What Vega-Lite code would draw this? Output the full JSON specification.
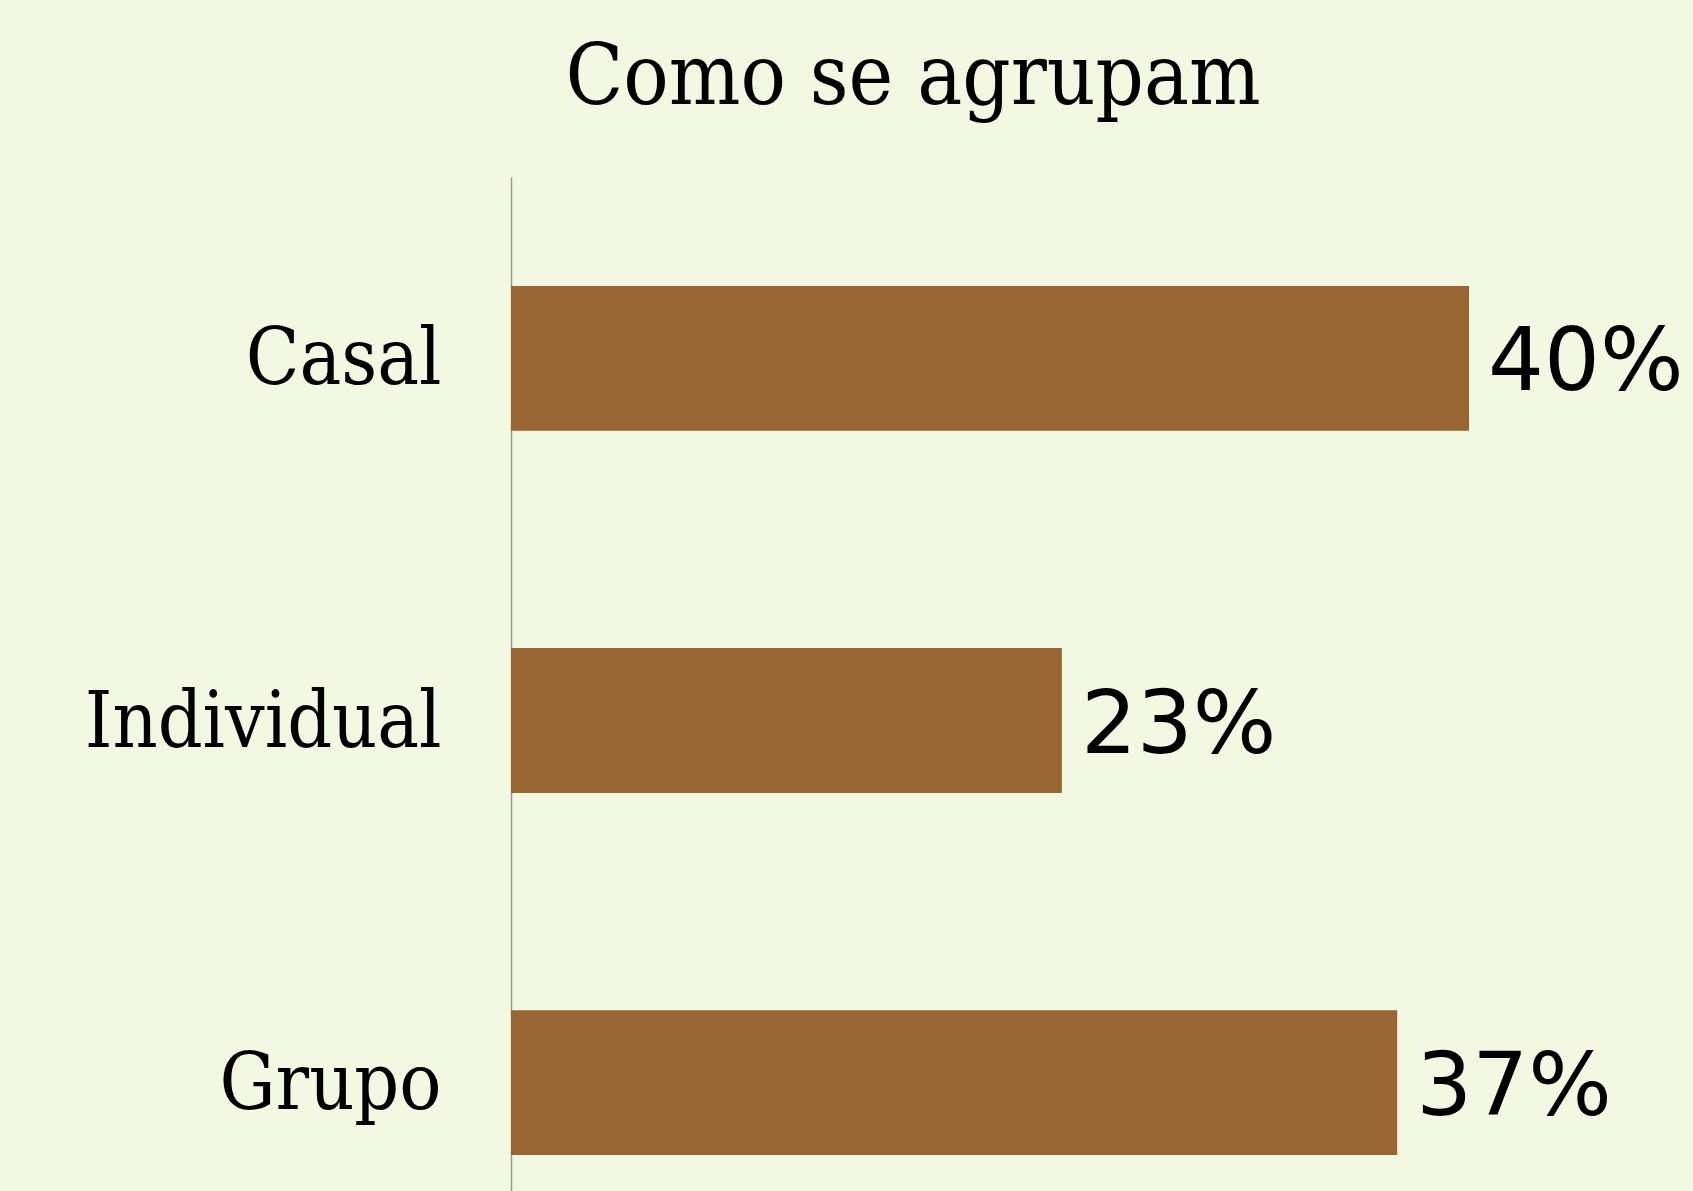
{
  "$schema": "https://vega.github.io/schema/vega-lite/v6.json",
  "autosize": "none",
  "width": 1182,
  "height": 1014,
  "padding": {"left": 511, "top": 177, "right": 0, "bottom": 0},
  "background": "#F3F8E2",
  "config": {"view": {"stroke": null}},
  "title": {
    "text": "Como se agrupam",
    "font": "DejaVu Serif Condensed",
    "fontSize": 84,
    "fontWeight": "normal",
    "color": "#000000",
    "anchor": "middle",
    "frame": "group",
    "dx": -189,
    "dy": 82,
    "baseline": "alphabetic",
    "offset": 71
  },
  "data": {
    "values": [
      {"grupo": "Casal", "valor": 0.40},
      {"grupo": "Individual", "valor": 0.23},
      {"grupo": "Grupo", "valor": 0.37}
    ]
  },
  "encoding": {
    "y": {
      "field": "grupo",
      "type": "nominal",
      "sort": null,
      "scale": {"paddingInner": 0.6, "paddingOuter": 0.2, "align": 0.752},
      "axis": {
        "title": null,
        "ticks": false,
        "domainColor": "#999999",
        "domainWidth": 1.5,
        "labelFont": "DejaVu Serif Condensed",
        "labelFontSize": 78,
        "labelLimit": 0,
        "labelColor": "#000000",
        "labelPadding": 70,
        "labelBaseline": "alphabetic",
        "labelOffset": 26
      }
    },
    "x": {
      "field": "valor",
      "type": "quantitative",
      "scale": {"domain": [0, 0.4935], "nice": false},
      "axis": null
    }
  },
  "layer": [
    {"mark": {"type": "bar", "color": "#996633"}},
    {
      "mark": {
        "type": "text",
        "align": "left",
        "baseline": "alphabetic",
        "dx": 19,
        "dy": 32,
        "font": "DejaVu Sans",
        "fontSize": 88,
        "color": "#000000"
      },
      "encoding": {"text": {"field": "valor", "type": "quantitative", "format": ".0%"}}
    }
  ]
}
